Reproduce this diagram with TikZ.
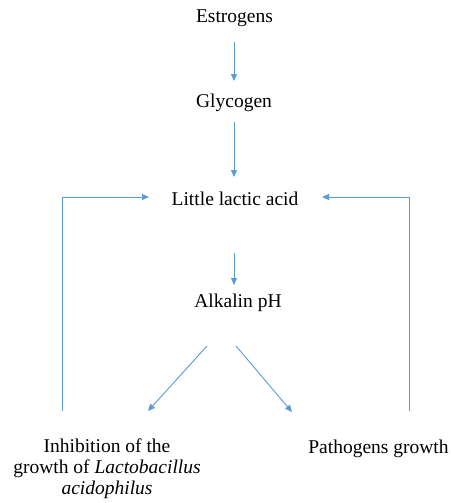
\documentclass[tikz,border=0pt]{standalone}
\usepackage{fontspec}
\setmainfont{Liberation Serif}
\usetikzlibrary{arrows.meta}
\definecolor{arr}{RGB}{91,155,213}
\tikzset{
  lbl/.style={font=\fontsize{19.5}{21}\selectfont, inner sep=0pt, align=center},
  conn/.style={draw=arr, line width=0.9pt, -{Triangle[length=7pt,width=6pt]}},
}
\begin{document}
\begin{tikzpicture}[x=1pt,y=-1pt]
\useasboundingbox (0,0) rectangle (450,503);
\node[lbl, anchor=base] (est) at (234.5,23) {Estrogens};
\node[lbl, anchor=base] (gly) at (234,107) {Glycogen};
\node[lbl, anchor=base] (lla) at (235,205) {Little lactic acid};
\node[lbl, anchor=base] (alk) at (238,307) {Alkalin pH};
\node[lbl, anchor=north] (inh) at (107,439) {Inhibition of the\\growth of \textit{Lactobacillus}\\\textit{acidophilus}};
\node[lbl, anchor=base] (pat) at (378.5,453) {Pathogens growth};
\coordinate (a1) at (234,42);
\coordinate (a2) at (234,81);
\coordinate (b1) at (234,122);
\coordinate (b2) at (234,177);
\coordinate (c1) at (234,253);
\coordinate (c2) at (234,285);
\coordinate (d1) at (207,346);
\coordinate (d2) at (148,411);
\coordinate (e1) at (236,346);
\coordinate (e2) at (292,412);
\coordinate (l1) at (62,411);
\coordinate (l2) at (62,197);
\coordinate (l3) at (149,197);
\coordinate (r1) at (409,411);
\coordinate (r2) at (409,197);
\coordinate (r3) at (322,197);
\draw[conn] (a1) -- (a2);
\draw[conn] (b1) -- (b2);
\draw[conn] (c1) -- (c2);
\draw[conn] (d1) -- (d2);
\draw[conn] (e1) -- (e2);
\draw[conn] (l1) -- (l2) -- (l3);
\draw[conn] (r1) -- (r2) -- (r3);
\end{tikzpicture}
\end{document}
